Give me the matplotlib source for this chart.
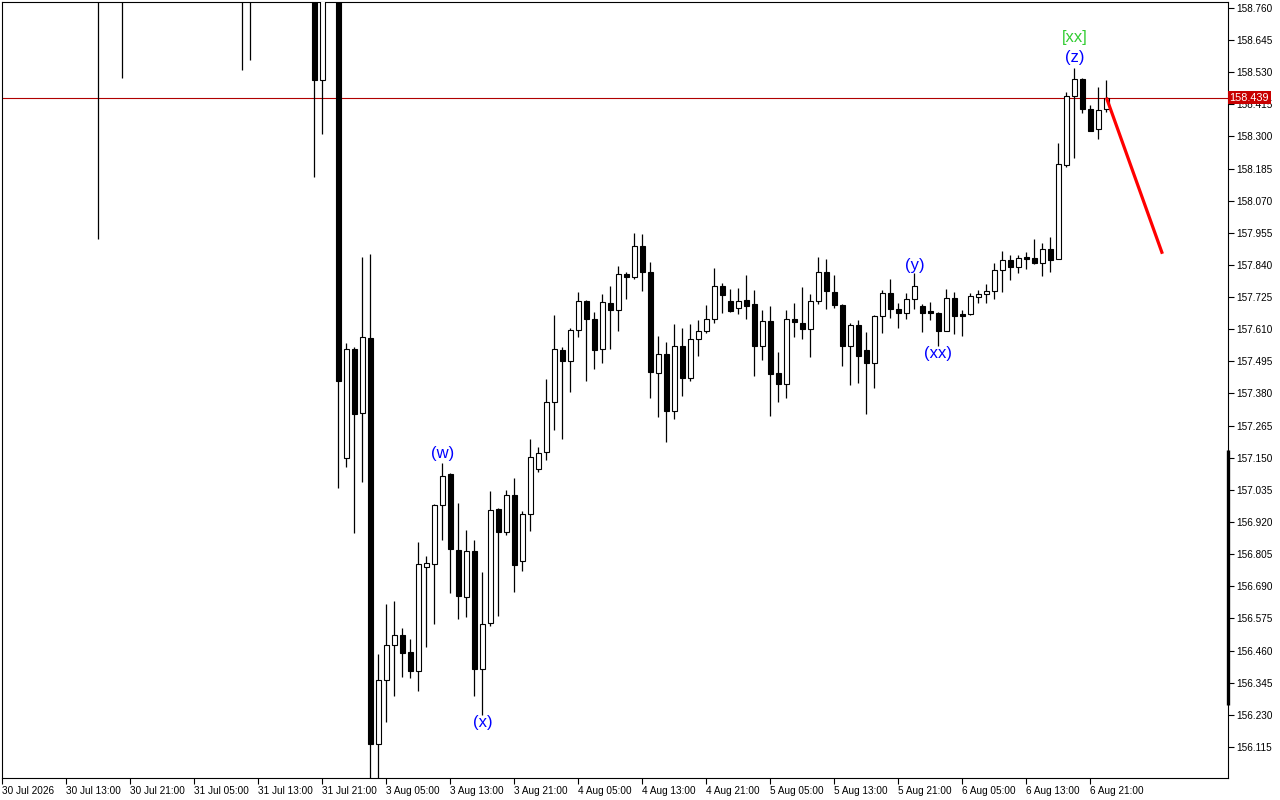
import matplotlib
matplotlib.use("Agg")
import matplotlib.pyplot as plt
import matplotlib.transforms as mtransforms

plt.rcParams['font.family'] = ['Liberation Sans', 'DejaVu Sans']

# ---------------- data (H1 bars, index = hours from 30 Jul 05:00 on chart) ----------------
bar_index = [12, 15, 30, 31, 39, 40, 42,
             43, 44, 45, 46, 47, 48, 49, 50, 51, 52, 53, 54, 55, 56, 57, 58, 59, 60,
             61, 62, 63, 64, 65, 66, 67, 68, 69, 70, 71, 72, 73, 74, 75, 76, 77, 78,
             79, 80, 81, 82, 83, 84, 85, 86, 87, 88, 89, 90, 91, 92, 93, 94, 95, 96,
             97, 98, 99, 100, 101, 102, 103, 104, 105, 106, 107, 108, 109, 110, 111,
             112, 113, 114, 115, 116, 117, 118, 119, 120, 121, 122, 123, 124, 125, 126,
             127, 128, 129, 130, 131, 132, 133, 134, 135, 136, 137, 138]

opens = [158.980, 158.900, 158.950, 158.880, 158.950, 158.501, 158.900,
         157.150, 157.540, 157.310, 157.579, 156.126, 156.355, 156.480, 156.516, 156.456,
         156.387, 156.759, 156.770, 156.981, 157.092, 156.820, 156.652, 156.817, 156.394,
         156.559, 156.967, 156.885, 157.017, 156.781, 156.949, 157.110, 157.171, 157.350,
         157.536, 157.497, 157.608, 157.711, 157.647, 157.540, 157.704, 157.679, 157.808,
         157.797, 157.908, 157.815, 157.454, 157.522, 157.318, 157.551, 157.436, 157.576,
         157.604, 157.647, 157.765, 157.711, 157.686, 157.715, 157.701, 157.551, 157.640,
         157.454, 157.414, 157.647, 157.633, 157.611, 157.711, 157.815, 157.744, 157.697,
         157.551, 157.626, 157.536, 157.490, 157.658, 157.740, 157.683, 157.669, 157.719,
         157.694, 157.676, 157.669, 157.604, 157.722, 157.665, 157.665, 157.726, 157.736,
         157.747, 157.822, 157.858, 157.833, 157.869, 157.865, 157.847, 157.897, 157.862,
         158.198, 158.445, 158.506, 158.398, 158.327, 158.398]

highs = [159.100, 159.050, 159.050, 159.000, 159.000, 158.980, 158.950,
         157.561, 157.545, 157.869, 157.880, 156.448, 156.627, 156.638, 156.541, 156.502,
         156.849, 156.799, 156.983, 157.133, 157.095, 156.988, 156.892, 156.856, 156.741,
         157.031, 156.970, 157.035, 157.078, 156.960, 157.217, 157.188, 157.432, 157.661,
         157.547, 157.615, 157.744, 157.715, 157.672, 157.736, 157.765, 157.837, 157.815,
         157.955, 157.951, 157.851, 157.587, 157.565, 157.629, 157.615, 157.629, 157.643,
         157.697, 157.830, 157.776, 157.754, 157.758, 157.805, 157.751, 157.679, 157.694,
         157.529, 157.679, 157.704, 157.762, 157.736, 157.869, 157.862, 157.805, 157.700,
         157.633, 157.643, 157.601, 157.661, 157.751, 157.790, 157.704, 157.740, 157.812,
         157.701, 157.708, 157.670, 157.754, 157.744, 157.679, 157.740, 157.751, 157.772,
         157.847, 157.890, 157.876, 157.876, 157.887, 157.933, 157.919, 157.940, 158.277,
         158.459, 158.545, 158.508, 158.413, 158.477, 158.502]

lows = [157.934, 158.510, 158.536, 158.575, 158.153, 158.310, 157.042,
        157.118, 156.881, 157.064, 155.950, 155.980, 156.205, 156.298, 156.366, 156.362,
        156.315, 156.473, 156.555, 156.856, 156.666, 156.573, 156.580, 156.298, 156.230,
        156.548, 156.584, 156.874, 156.670, 156.745, 156.888, 157.100, 157.142, 157.250,
        157.217, 157.386, 157.583, 157.425, 157.468, 157.490, 157.540, 157.604, 157.718,
        157.790, 157.747, 157.364, 157.296, 157.207, 157.289, 157.371, 157.425, 157.515,
        157.597, 157.633, 157.668, 157.672, 157.665, 157.647, 157.443, 157.500, 157.300,
        157.350, 157.364, 157.583, 157.576, 157.511, 157.701, 157.683, 157.686, 157.479,
        157.411, 157.418, 157.307, 157.400, 157.597, 157.651, 157.615, 157.647, 157.683,
        157.601, 157.643, 157.551, 157.602, 157.594, 157.586, 157.661, 157.704, 157.704,
        157.719, 157.744, 157.787, 157.812, 157.826, 157.845, 157.801, 157.815, 157.860,
        158.191, 158.223, 158.384, 158.318, 158.291, 158.388]

closes = [158.920, 158.950, 158.880, 158.930, 158.501, 158.900, 157.426,
          157.540, 157.307, 157.583, 156.125, 156.355, 156.480, 156.516, 156.452, 156.387,
          156.770, 156.773, 156.981, 157.085, 156.824, 156.656, 156.817, 156.394, 156.555,
          156.963, 156.885, 157.017, 156.766, 156.949, 157.153, 157.167, 157.350, 157.540,
          157.497, 157.608, 157.711, 157.647, 157.536, 157.708, 157.679, 157.808, 157.797,
          157.908, 157.815, 157.457, 157.522, 157.318, 157.551, 157.436, 157.576, 157.604,
          157.647, 157.765, 157.733, 157.676, 157.711, 157.694, 157.551, 157.640, 157.450,
          157.414, 157.647, 157.636, 157.611, 157.711, 157.815, 157.747, 157.697, 157.551,
          157.626, 157.515, 157.490, 157.658, 157.740, 157.683, 157.669, 157.719, 157.765,
          157.669, 157.669, 157.604, 157.722, 157.658, 157.658, 157.729, 157.736, 157.747,
          157.822, 157.858, 157.833, 157.865, 157.862, 157.847, 157.897, 157.858, 158.202,
          158.445, 158.506, 158.398, 158.320, 158.395, 158.439]

current_price = 158.439
forecast_index = [138, 145]
forecast_price = [158.439, 157.880]

time_tick_index = [0, 8, 16, 24, 32, 40, 48, 56, 64, 72, 80, 88, 96, 104, 112, 120, 128, 136]
time_tick_labels = ["30 Jul 2026", "30 Jul 13:00", "30 Jul 21:00", "31 Jul 05:00",
                    "31 Jul 13:00", "31 Jul 21:00", "3 Aug 05:00", "3 Aug 13:00",
                    "3 Aug 21:00", "4 Aug 05:00", "4 Aug 13:00", "4 Aug 21:00",
                    "5 Aug 05:00", "5 Aug 13:00", "5 Aug 21:00", "6 Aug 05:00",
                    "6 Aug 13:00", "6 Aug 21:00"]

price_ticks = [156.115, 156.230, 156.345, 156.460, 156.575, 156.690, 156.805, 156.920,
               157.035, 157.150, 157.265, 157.380, 157.495, 157.610, 157.725, 157.840,
               157.955, 158.070, 158.185, 158.300, 158.415, 158.530, 158.645, 158.760]

wave_labels = ["(w)", "(x)", "(y)", "(xx)", "(z)", "[xx]"]
wave_index = [55, 60.1, 114, 117, 134, 134]
wave_price = [157.164, 156.201, 157.838, 157.523, 158.581, 158.653]
wave_colors = ["#0000FF", "#0000FF", "#0000FF", "#0000FF", "#0000FF", "#32CD32"]

scale_marker = [156.265, 157.178]   # MT5 vertical scale bar on the price axis

# ---------------- figure ----------------
fig = plt.figure(figsize=(12.8, 8), dpi=100)
fig.patch.set_facecolor('white')
ax = fig.add_axes([2 / 1280, 22 / 800, 1226 / 1280, 776 / 800])
ax.set_facecolor('white')

ax.set_xlim(-0.04, 153.2)
ax.set_ylim(156.004, 158.781)

# wicks
ax.vlines(bar_index, lows, highs, color='black', linewidth=0.9, zorder=2)
# bodies
for i, o, c in zip(bar_index, opens, closes):
    bull = c >= o
    ax.bar(i, abs(c - o), bottom=min(o, c), width=0.56,
           color='white' if bull else 'black', edgecolor='black',
           linewidth=0.8, zorder=3)

# current price line
ax.axhline(current_price, color='#B00000', linewidth=0.8, zorder=1.8)

# forecast line
ax.plot(forecast_index, forecast_price, color='#FF0000', linewidth=2.3,
        solid_capstyle='butt', zorder=4)

# wave labels
for lab, xi, yp, col in zip(wave_labels, wave_index, wave_price, wave_colors):
    ax.text(xi, yp, lab, color=col, fontsize=12, ha='center', va='center', zorder=5)

# axes styling
for s in ax.spines.values():
    s.set_color('black')
    s.set_linewidth(0.8)

ax.yaxis.tick_right()
ax.set_yticks(price_ticks)
ax.set_yticklabels([f"{v:.3f}" for v in price_ticks])
ax.tick_params(axis='y', which='both', direction='out', length=4, width=0.8,
               labelsize=7.2, pad=2, colors='black')

ax.set_xticks(time_tick_index)
ax.set_xticklabels(time_tick_labels)
ax.tick_params(axis='x', which='both', direction='out', length=4, width=0.8,
               labelsize=7.2, pad=2, colors='black')
for t in ax.get_xticklabels():
    t.set_ha('left')

# current price tag on the axis
trans = mtransforms.blended_transform_factory(ax.transAxes, ax.transData)
ax.text(1.0012, current_price, f"{current_price:.3f}", transform=trans,
        color='white', fontsize=7.8, ha='left', va='center', zorder=10, clip_on=False,
        bbox=dict(boxstyle='square,pad=0.15', facecolor='#C80000', edgecolor='none'))

# MT5 scale bar on the right border
ax.plot([1.0, 1.0], scale_marker, transform=trans, color='black', linewidth=2.4,
        solid_capstyle='butt', clip_on=False, zorder=6)

fig.savefig("out.png", dpi=100, facecolor='white')
